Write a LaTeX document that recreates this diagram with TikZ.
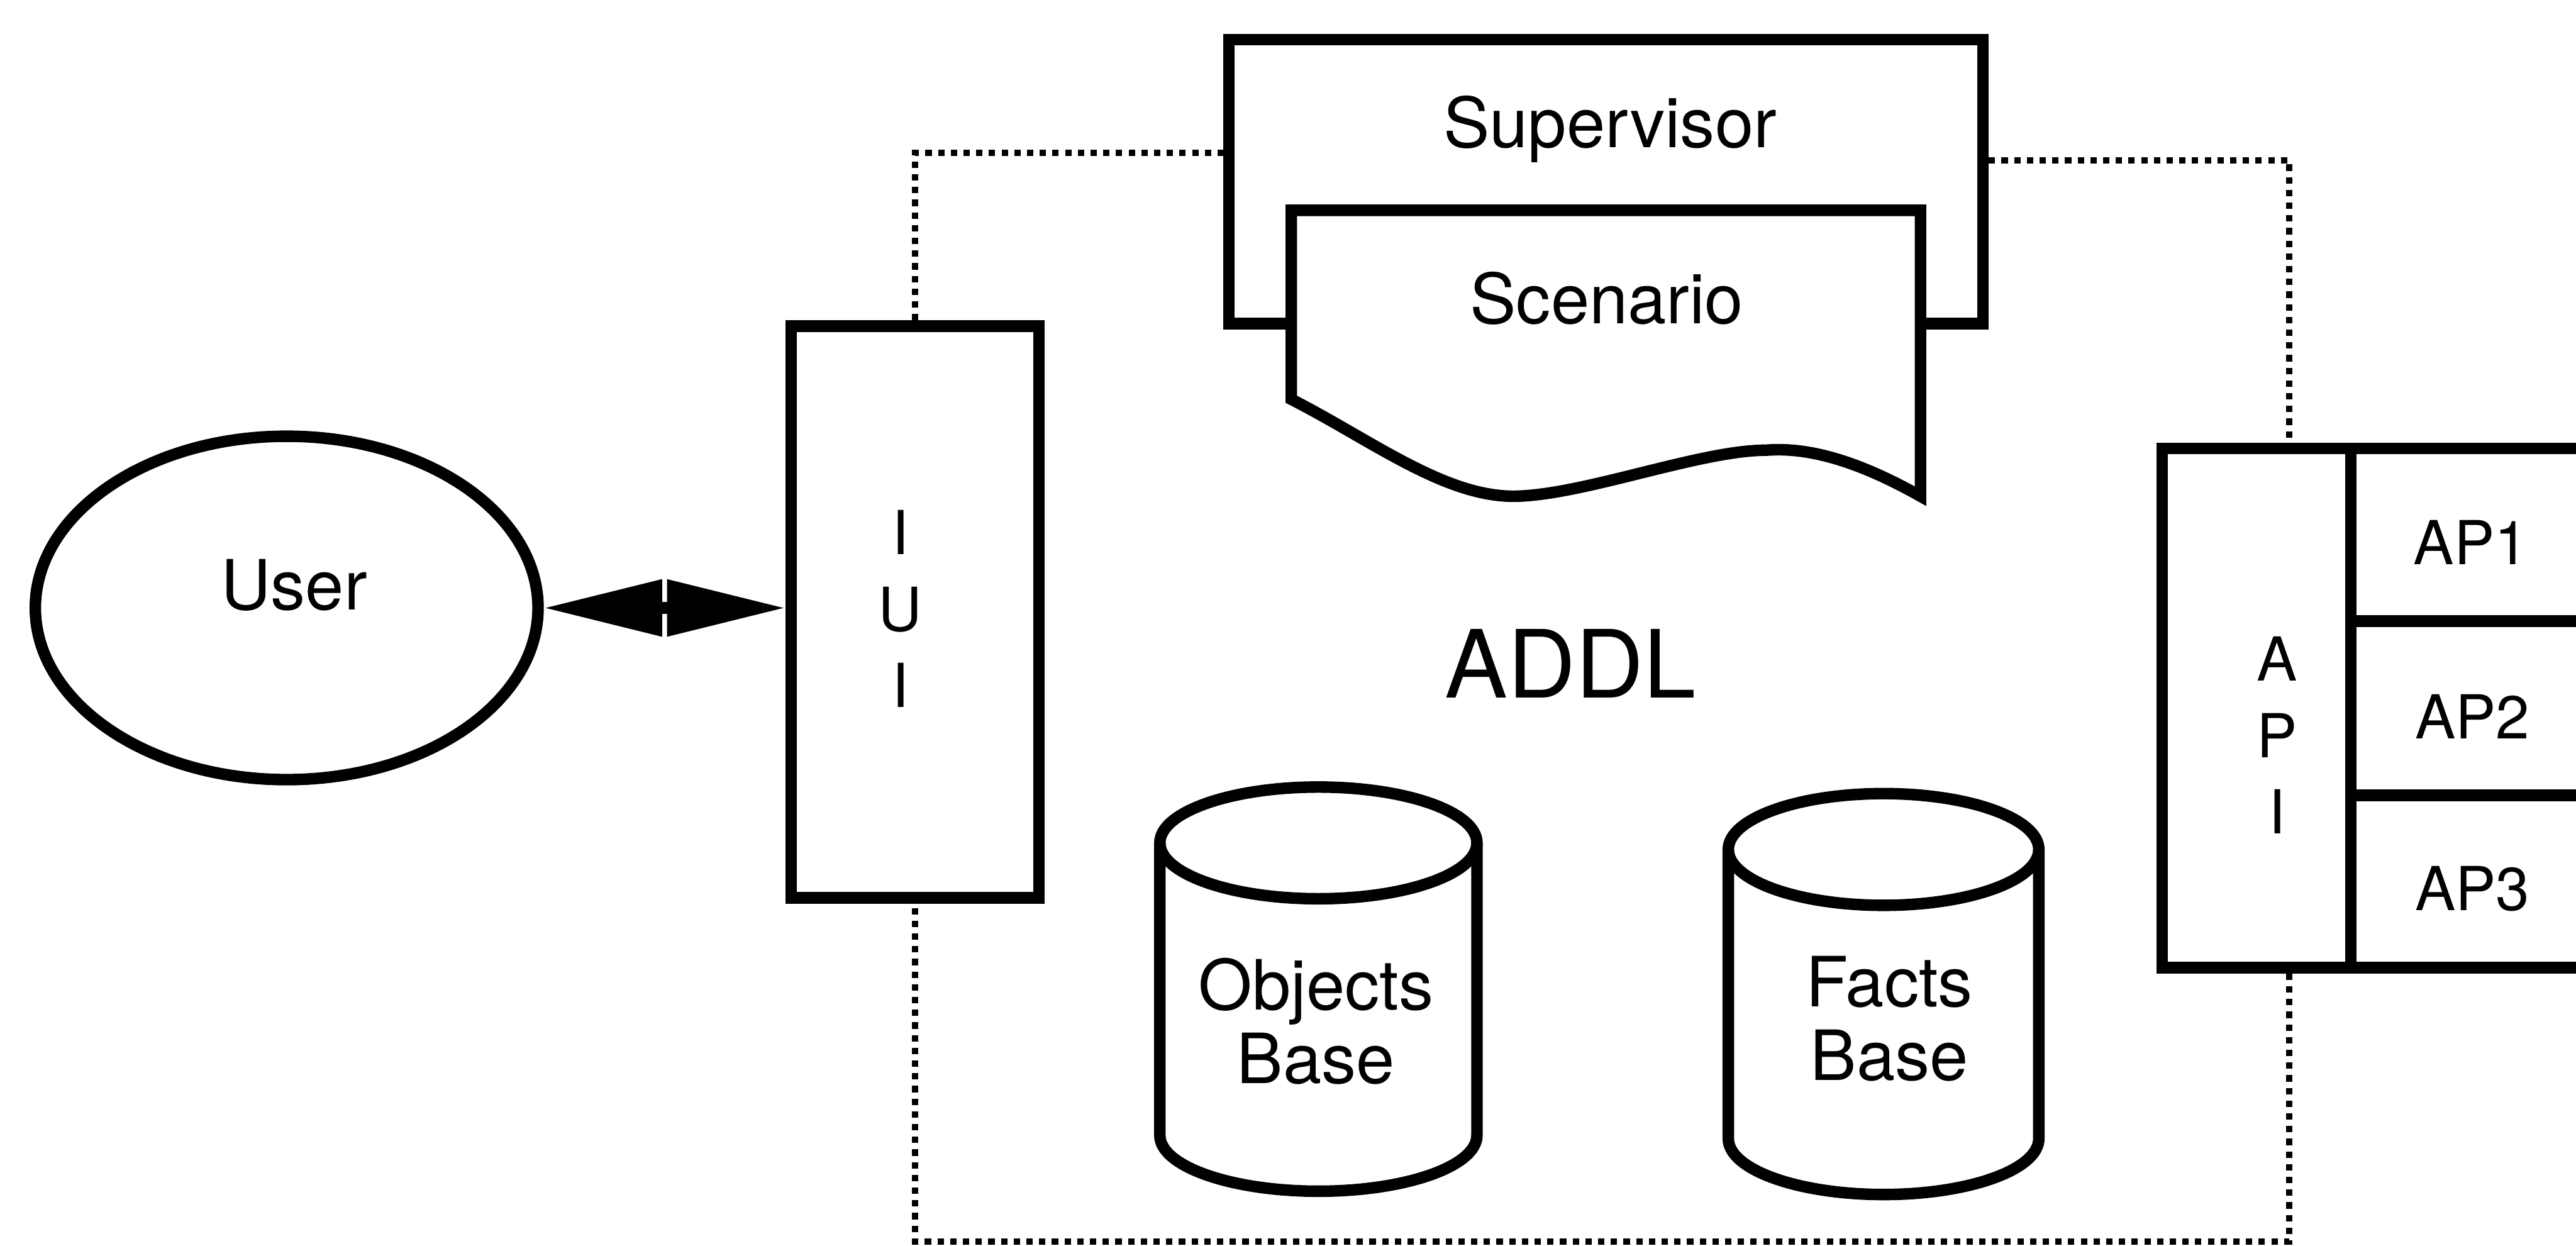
\documentclass[tikz,border=0pt]{standalone}
\usepackage{fontspec}
\setmainfont{TeX Gyre Heros}
\usetikzlibrary{positioning, arrows.meta, shapes.geometric}

\begin{document}
\begin{tikzpicture}[line width=2pt,
			block/.style={draw, rectangle, inner sep=0pt},
			caption/.style={font=\fontsize{12}{12.8}\selectfont, align=center, inner sep=0pt},
			letters/.style={font=\fontsize{10.5}{13.2}\selectfont, align=center, inner sep=0pt},
			dotlink/.style={line width=1.1pt, dash pattern=on 1.1pt off 1.1pt},
			twoway/.style={{Triangle[length=7.2mm, width=3.3mm]}-{Triangle[length=7.2mm, width=3.3mm]}}]
			\useasboundingbox (0,0) rectangle (15.68,7.58);
			\clip (0,0) rectangle (15.68,7.58);
			\coordinate (floor) at (0,0.025);
			\node[draw, ellipse, inner sep=0pt, minimum width=3.06cm, minimum height=2.09cm] (user) at (1.745,3.88) {};
			\node[caption] (usertext) at (1.79,4.02) {User};
			\node[block, minimum width=1.51cm, minimum height=3.48cm] (iui) at (5.57,3.855) {};
			\node[letters] (iuitext) at (5.48,3.875) {I\\U\\I};
			\draw[twoway] (user.east) -- (user.east -| iui.west);
			\node[block, minimum width=4.59cm, minimum height=1.73cm] (superv) at (9.775,6.475) {};
			\node[caption, text depth=0pt] (supervtext) at (9.80,6.84) {Supervisor};
			\draw[fill=white] (7.86,6.30) -- (7.86,5.15)
				.. controls (8.35,4.90) and (8.80,4.55) .. (9.23,4.56)
				.. controls (9.65,4.57) and (10.35,4.84) .. (10.75,4.84)
				.. controls (11.00,4.86) and (11.30,4.78) .. (11.69,4.56)
				-- (11.69,6.30) -- cycle;
			\node[caption] (scentext) at (9.78,5.765) {Scenario};
			\node[font=\fontsize{16.3}{18}\selectfont, inner sep=0pt] (addl) at (9.56,3.54) {ADDL};
			\draw (7.06,2.45) -- (7.06,0.67) arc[start angle=180, end angle=360, x radius=0.965, y radius=0.34] -- (8.99,2.45);
			\draw (8.025,2.45) ellipse [x radius=0.965, y radius=0.34];
			\node[caption] (objects) at (8.01,1.365) {Objects\\Base};
			\draw (10.52,2.41) -- (10.52,0.65) arc[start angle=180, end angle=360, x radius=0.945, y radius=0.34] -- (12.41,2.41);
			\draw (11.465,2.41) ellipse [x radius=0.945, y radius=0.34];
			\node[caption] (facts) at (11.50,1.38) {Facts\\Base};
			\node[block, minimum width=1.15cm, minimum height=3.16cm] (apicell) at (13.735,3.27) {};
			\node[letters] (apitext) at (13.86,3.105) {A\\P\\I};
			\node[block, minimum width=1.89cm, minimum height=1.05cm] (ap1) at (15.255,4.325) {};
			\node[block, minimum width=1.89cm, minimum height=1.06cm] (ap2) at (15.255,3.27) {};
			\node[block, minimum width=1.89cm, minimum height=1.05cm] (ap3) at (15.255,2.215) {};
			\node[letters] (ap1text) at (15.04,4.28) {AP1};
			\node[letters] (ap2text) at (15.05,3.22) {AP2};
			\node[letters] (ap3text) at (15.05,2.17) {AP3};
			\draw[dotlink] (iui.north) |- ([yshift=1.75mm]superv.west);
			\draw[dotlink] ([yshift=1.3mm]superv.east) -| ([xshift=2mm]apicell.north);
			\draw[dotlink] ([xshift=2mm]apicell.south) |- (floor -| iui.south) -- (iui.south);
		\end{tikzpicture}
\end{document}
